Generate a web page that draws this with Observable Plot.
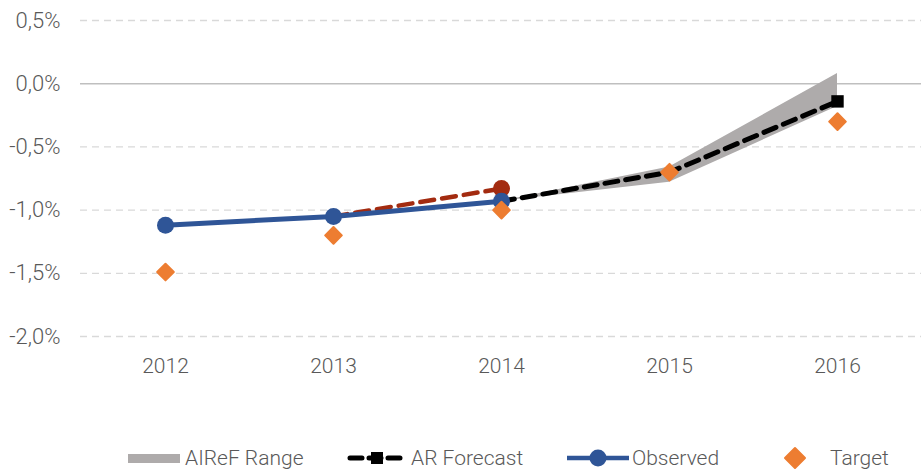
<!DOCTYPE html>
<html>
<head>
<meta charset="utf-8">
<script src="https://cdn.jsdelivr.net/npm/d3@7"></script>
<script src="https://cdn.jsdelivr.net/npm/@observablehq/plot@0.6"></script>
<style>
  html, body { margin: 0; padding: 0; background: #fff; }
  #wrap { width: 921px; font-family: Roboto, "Noto Sans", sans-serif; font-weight: 300; color: #595959; }
  #legend { position: relative; height: 53px; font-size: 21px; }
  .item { position: absolute; top: 26px; height: 24px; display: flex; align-items: center; }
  .item svg { display: block; }
  .item span { line-height: 1; }
</style>
</head>
<body>
<div id="wrap">
  <div id="chart"></div>
  <div id="legend"></div>
</div>
<script>
const years = [2012, 2013, 2014, 2015, 2016];
const yTicks = [0.5, 0, -0.5, -1.0, -1.5, -2.0];

const observedYears = [2012, 2013, 2014];
const observed = [-1.12, -1.05, -0.93];

const priorYears = [2013, 2014];
const prior = [-1.05, -0.83];

const forecastYears = [2014, 2015, 2016];
const forecast = [-0.93, -0.70, -0.14];

const rangeYears = [2014, 2015, 2016];
const rangeLow = [-0.93, -0.78, -0.18];
const rangeHigh = [-0.93, -0.66, 0.08];

const targetYears = [2012, 2013, 2014, 2015, 2016];
const target = [-1.49, -1.20, -1.00, -0.70, -0.30];

const legendLabels = ["AIReF Range", "AR Forecast", "Observed", "Target"];

const cBlue = "#2F5597", cOrange = "#ED7D31", cGray = "#AEABAB", cRed = "#A32B10";

const obsData = observedYears.map((x, i) => ({x, y: observed[i]}));
const priorData = priorYears.map((x, i) => ({x, y: prior[i]}));
const fcData = forecastYears.map((x, i) => ({x, y: forecast[i]}));
const rangeData = rangeYears.map((x, i) => ({x, lo: rangeLow[i], hi: rangeHigh[i]}));
const tgtData = targetYears.map((x, i) => ({x, y: target[i]}));

const fmt = d => d.toFixed(1).replace(".", ",") + "%";

const chart = Plot.plot({
  width: 921,
  height: 420,
  marginLeft: 80,
  marginRight: 0,
  marginTop: 20,
  marginBottom: 84,
  style: {fontFamily: 'Roboto, "Noto Sans", sans-serif', fontWeight: 300, fontSize: "21px", color: "#595959", background: "#fff", overflow: "visible"},
  x: {type: "point", domain: years, padding: 0.5, label: null},
  y: {domain: [-2.0, 0.5], label: null},
  marks: [
    Plot.ruleY(yTicks.filter(d => d !== 0), {stroke: "#D9D9D9", strokeWidth: 1.3, strokeDasharray: "7,5"}),
    Plot.ruleY([0], {stroke: "#BFBFBF", strokeWidth: 1.5}),
    Plot.areaY(rangeData, {x: "x", y1: "lo", y2: "hi", fill: cGray, curve: "linear"}),
    Plot.line(priorData, {x: "x", y: "y", stroke: cRed, strokeWidth: 4.5, strokeDasharray: "14,8"}),
    Plot.dot(priorData.slice(1), {x: "x", y: "y", r: 8.5, fill: cRed}),
    Plot.line(fcData, {x: "x", y: "y", stroke: "#000", strokeWidth: 5, strokeDasharray: "13,8", strokeLinecap: "round"}),
    Plot.dot(fcData.slice(2), {x: "x", y: "y", symbol: "square", r: 7, fill: "#000"}),
    Plot.line(obsData, {x: "x", y: "y", stroke: cBlue, strokeWidth: 5}),
    Plot.dot(obsData, {x: "x", y: "y", r: 8.5, fill: cBlue}),
    Plot.dot(tgtData, {x: "x", y: "y", symbol: "diamond2", r: 7.5, fill: cOrange, stroke: cOrange, strokeWidth: 2, strokeLinejoin: "round"}),
    Plot.axisY({ticks: yTicks, tickFormat: fmt, tickSize: 0, tickPadding: 20, fontSize: 22}),
    Plot.axisX({tickSize: 0, tickPadding: 22, tickFormat: d => String(d)})
  ]
});
document.getElementById("chart").appendChild(chart);

// Legend
const legend = document.getElementById("legend");
const items = [
  {left: 128, sym: `<svg width="52" height="20"><rect x="0" y="6" width="52" height="9" fill="${cGray}"/></svg>`, gap: 5},
  {left: 347, sym: `<svg width="60" height="20"><line x1="3" y1="10" x2="57" y2="10" stroke="#000" stroke-width="5" stroke-dasharray="12,7" stroke-linecap="round"/><rect x="24" y="4" width="12" height="12" fill="#000"/></svg>`, gap: 4},
  {left: 567, sym: `<svg width="62" height="20"><line x1="0" y1="10" x2="62" y2="10" stroke="${cBlue}" stroke-width="4.5"/><circle cx="31" cy="10" r="8.5" fill="${cBlue}"/></svg>`, gap: 3},
  {left: 780, sym: `<svg width="30" height="24"><path d="M15,2 L25,12 L15,22 L5,12 Z" fill="${cOrange}" stroke="${cOrange}" stroke-width="2" stroke-linejoin="round"/></svg>`, gap: 20}
];
items.forEach((it, i) => {
  const d = document.createElement("div");
  d.className = "item";
  d.style.left = it.left + "px";
  d.innerHTML = it.sym + `<span style="margin-left:${it.gap}px">${legendLabels[i]}</span>`;
  legend.appendChild(d);
});
</script>
</body>
</html>
